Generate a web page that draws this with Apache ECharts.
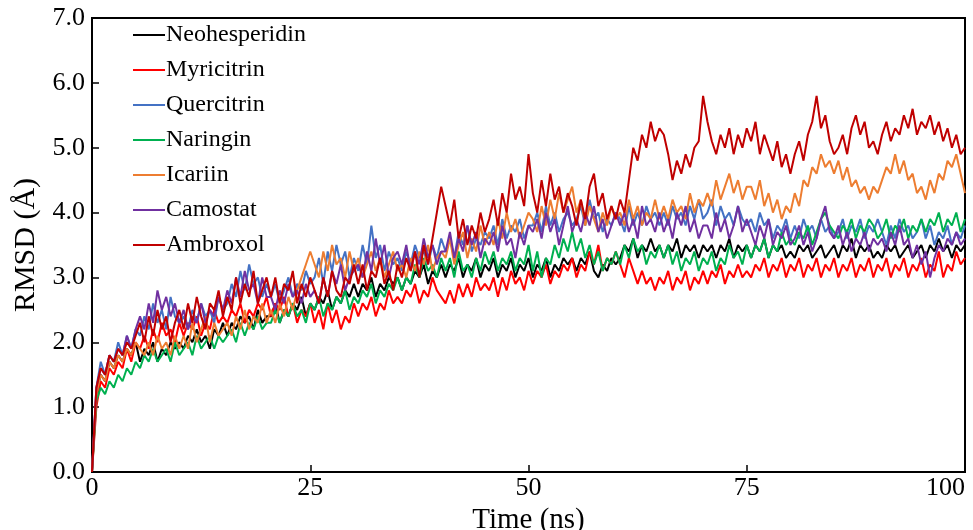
<!DOCTYPE html>
<html>
<head>
<meta charset="utf-8">
<script src="https://cdn.jsdelivr.net/npm/echarts@6/dist/echarts.min.js"></script>
<style>html,body{margin:0;padding:0;background:#fff}#c{width:973px;height:530px}</style>
</head>
<body>
<div id="c"></div>
<script>
// Time step 0.5 ns, 0..100 ns (201 samples)
const timeStepNs = 0.5;
const seriesNames = ['Neohesperidin','Myricitrin','Quercitrin','Naringin','Icariin','Camostat','Ambroxol'];
const seriesColors = ['#000000','#FF0000','#4472C4','#00B050','#ED7D31','#7030A0','#C00000'];
const xTicks = [0,25,50,75,100];
const yTicks = [0,1,2,3,4,5,6,7];

const neohesperidin = [0,
1.2,1.5,1.4,1.7,1.6,1.8,1.7,1.9,1.8,2.0,
1.7,1.9,1.8,2.0,1.7,1.9,1.8,2.0,1.9,2.0,
1.9,2.1,2.0,2.2,2.0,2.1,1.9,2.2,2.1,2.3,
2.1,2.3,2.2,2.4,2.3,2.4,2.2,2.5,2.3,2.4,
2.4,2.6,2.3,2.5,2.4,2.6,2.5,2.7,2.4,2.6,
2.5,2.7,2.6,2.8,2.5,2.7,2.6,2.8,2.7,2.9,
2.7,2.9,2.8,3.0,2.7,2.9,2.8,3.0,2.9,3.0,
2.8,3.0,2.9,3.1,3.0,3.2,2.9,3.1,3.0,3.2,
3.0,3.2,3.1,3.3,3.0,3.2,3.1,3.3,3.0,3.2,
3.1,3.3,3.0,3.2,3.1,3.3,3.0,3.2,3.1,3.3,
3.0,3.2,3.1,3.3,3.0,3.2,3.1,3.3,3.2,3.3,
3.1,3.3,3.2,3.4,3.1,3.0,3.2,3.1,3.3,3.2,
3.3,3.5,3.4,3.6,3.3,3.5,3.4,3.6,3.4,3.5,
3.3,3.5,3.4,3.6,3.3,3.5,3.4,3.5,3.3,3.5,
3.4,3.5,3.3,3.5,3.4,3.6,3.3,3.5,3.4,3.5,
3.3,3.5,3.4,3.6,3.3,3.5,3.4,3.5,3.3,3.4,
3.3,3.5,3.4,3.5,3.3,3.4,3.5,3.3,3.4,3.5,
3.3,3.5,3.4,3.6,3.3,3.5,3.4,3.5,3.3,3.4,
3.3,3.5,3.4,3.5,3.3,3.4,3.5,3.3,3.4,3.5,
3.3,3.5,3.4,3.6,3.4,3.5,3.3,3.5,3.4,3.5];

const myricitrin = [0,
1.0,1.4,1.3,1.6,1.5,1.7,1.6,1.9,1.7,2.0,
1.9,2.1,1.9,2.2,2.0,2.3,2.1,2.2,2.0,2.3,
2.1,2.3,2.2,2.4,2.1,2.3,2.2,2.5,2.3,2.4,
2.3,2.5,2.4,2.6,2.3,2.5,2.4,2.6,2.5,2.7,
2.4,2.6,2.5,2.7,2.4,2.6,2.3,2.5,2.4,2.6,
2.3,2.5,2.2,2.6,2.3,2.5,2.2,2.4,2.3,2.6,
2.4,2.6,2.5,2.7,2.4,2.6,2.5,2.8,2.6,2.7,
2.6,2.8,2.7,2.9,2.6,2.8,2.7,3.0,2.8,2.7,
2.6,2.8,2.6,2.9,2.7,2.9,2.7,3.0,2.8,2.9,
2.8,3.0,2.7,3.0,2.8,3.1,2.9,3.0,2.8,3.1,
2.9,3.1,3.0,3.2,2.9,3.1,3.0,3.2,3.1,3.3,
3.0,3.2,3.1,3.4,3.2,3.5,3.1,3.3,3.2,3.4,
3.2,3.0,3.3,3.1,2.9,3.1,2.9,3.0,2.8,3.0,
2.9,3.1,2.8,3.0,2.9,3.1,2.8,3.0,2.9,3.1,
2.9,3.1,3.0,3.2,2.9,3.1,3.0,3.2,3.0,3.1,
3.0,3.2,3.1,3.3,3.0,3.2,3.1,3.3,3.0,3.2,
3.1,3.3,3.0,3.2,3.1,3.3,3.0,3.2,3.1,3.3,
3.0,3.2,3.1,3.3,3.0,3.2,3.1,3.3,3.0,3.2,
3.1,3.3,3.0,3.2,3.1,3.3,3.0,3.2,3.1,3.3,
3.0,3.2,3.1,3.4,3.0,3.2,3.1,3.4,3.2,3.3];

const quercitrin = [0,
1.3,1.7,1.5,1.8,1.7,2.0,1.8,2.1,1.9,2.2,
2.1,2.4,2.2,2.6,2.3,2.5,2.2,2.7,2.4,2.3,
2.4,2.2,2.5,2.3,2.6,2.4,2.5,2.3,2.7,2.5,
2.6,2.9,2.7,3.1,2.8,3.2,2.9,3.0,2.7,2.9,
2.7,2.9,2.6,2.8,3.0,2.7,2.9,2.8,3.1,2.9,
3.0,3.3,2.9,3.4,3.1,3.5,3.2,3.4,3.0,3.3,
3.1,3.5,3.2,3.8,3.3,3.5,3.1,3.4,3.2,3.3,
3.1,3.4,3.2,3.5,3.3,3.4,3.2,3.5,3.3,3.6,
3.4,3.6,3.3,3.7,3.5,3.8,3.4,3.6,3.5,3.7,
3.6,3.8,3.5,3.9,3.6,3.8,3.7,3.9,3.6,3.8,
3.8,4.0,3.7,4.1,3.8,4.0,3.7,3.9,4.0,3.8,
3.9,4.1,3.8,4.2,3.9,4.0,3.7,3.9,3.8,4.0,
3.9,3.7,4.1,3.8,4.0,3.8,4.1,3.9,4.0,3.8,
4.0,3.8,4.1,3.9,4.0,3.8,4.1,3.9,4.2,3.9,
4.0,4.2,3.8,4.1,3.9,4.0,3.8,4.1,3.9,3.8,
3.9,3.7,4.0,3.8,3.9,3.6,3.8,3.7,3.9,3.6,
3.8,3.6,3.9,3.7,3.8,3.6,3.9,3.7,3.8,3.6,
3.7,3.9,3.6,3.8,3.7,3.9,3.6,3.8,3.7,3.9,
3.7,3.5,3.8,3.6,3.9,3.7,3.8,3.6,3.7,3.9,
3.6,3.8,3.5,3.7,3.6,3.8,3.5,3.7,3.6,3.8];

const naringin = [0,
1.1,1.3,1.2,1.4,1.3,1.5,1.4,1.6,1.5,1.7,
1.6,1.8,1.7,1.9,1.7,1.8,1.9,1.7,2.0,1.8,
1.9,2.0,1.8,2.1,1.9,2.0,2.1,1.9,2.1,2.0,
2.1,2.2,2.0,2.3,2.1,2.3,2.2,2.4,2.2,2.3,
2.3,2.5,2.3,2.5,2.4,2.6,2.4,2.5,2.3,2.6,
2.5,2.7,2.4,2.6,2.5,2.7,2.6,2.8,2.5,2.7,
2.6,2.8,2.7,2.9,2.6,2.8,2.7,2.9,2.8,3.0,
2.8,3.0,2.9,3.2,3.0,3.3,3.1,3.2,3.0,3.3,
3.1,3.3,3.0,3.4,3.1,3.2,3.0,3.3,3.1,3.4,
3.2,3.4,3.1,3.3,3.2,3.4,3.1,3.3,3.2,3.5,
3.1,3.4,3.0,3.3,3.2,3.5,3.3,3.6,3.4,3.7,
3.4,3.6,3.3,3.5,3.2,3.4,3.1,3.3,3.2,3.4,
3.2,3.5,3.3,3.6,3.4,3.5,3.2,3.4,3.3,3.5,
3.3,3.5,3.2,3.4,3.1,3.3,3.2,3.4,3.1,3.3,
3.2,3.4,3.1,3.3,3.2,3.5,3.3,3.4,3.2,3.5,
3.3,3.5,3.4,3.6,3.3,3.5,3.4,3.7,3.5,3.6,
3.5,3.7,3.6,3.8,3.5,3.7,3.9,4.0,3.8,3.7,
3.6,3.8,3.7,3.9,3.6,3.8,3.7,3.9,3.8,3.6,
3.7,3.9,3.6,3.8,3.7,3.9,3.6,3.8,3.7,3.9,
3.7,3.9,3.8,4.0,3.7,3.9,3.8,4.0,3.7,3.9];

const icariin = [0,
1.2,1.5,1.4,1.7,1.6,1.8,1.7,1.9,1.8,2.0,
1.9,1.8,2.0,1.8,2.1,1.9,2.0,1.8,2.1,1.9,
2.1,1.9,2.3,2.0,2.2,2.4,2.0,2.3,2.1,2.2,
2.3,2.1,2.4,2.2,2.5,2.2,2.4,2.3,2.6,2.3,
2.5,2.3,2.6,2.4,2.7,2.5,2.8,3.0,3.2,3.4,
3.2,3.0,3.4,3.1,3.5,3.2,3.3,3.0,3.4,3.1,
3.3,3.0,3.2,3.4,3.1,3.3,3.0,3.2,3.4,3.1,
3.2,3.0,3.3,3.1,3.4,3.2,3.5,3.1,3.3,3.4,
3.3,3.6,3.2,3.5,3.7,3.3,3.6,3.4,3.8,3.5,
3.7,3.5,3.9,3.6,4.0,3.7,3.9,3.6,3.8,4.0,
3.9,3.7,4.1,3.8,4.2,3.9,4.3,4.0,4.2,4.4,
4.0,4.2,3.8,4.1,3.9,3.7,4.0,3.8,4.1,3.9,
4.0,3.8,4.2,3.9,4.1,3.8,4.0,3.9,4.2,3.9,
4.1,3.9,4.2,4.0,4.1,3.9,4.3,4.0,4.2,4.1,
4.3,4.1,4.5,4.2,4.4,4.6,4.3,4.5,4.2,4.4,
4.4,4.2,4.5,4.1,4.3,4.0,4.2,3.9,4.1,4.0,
4.3,4.1,4.5,4.4,4.7,4.6,4.9,4.7,4.8,4.6,
4.8,4.5,4.7,4.4,4.5,4.3,4.4,4.2,4.4,4.3,
4.5,4.7,4.6,4.9,4.6,4.8,4.5,4.6,4.3,4.4,
4.2,4.5,4.3,4.6,4.5,4.8,4.7,4.9,4.6,4.3];

const camostat = [0,
1.3,1.6,1.5,1.8,1.7,1.9,1.8,2.1,1.9,2.2,
2.4,2.2,2.6,2.3,2.8,2.5,2.7,2.4,2.6,2.3,
2.5,2.2,2.4,2.3,2.6,2.3,2.5,2.4,2.7,2.5,
2.8,2.6,3.0,2.7,3.1,2.8,2.9,2.6,3.0,2.7,
2.7,2.5,2.8,2.6,2.9,2.7,2.8,2.6,2.9,2.7,
2.8,2.6,3.0,2.7,3.1,2.9,3.2,2.8,3.0,3.1,
3.2,3.0,3.4,3.1,3.6,3.2,3.5,3.0,3.3,3.4,
3.2,3.5,3.1,3.4,3.2,3.6,3.3,3.5,3.2,3.4,
3.4,3.7,3.3,3.6,3.4,3.8,3.5,3.7,3.3,3.6,
3.5,3.7,3.4,3.8,3.5,3.6,3.3,3.7,3.5,3.8,
3.7,3.9,3.6,4.0,3.7,3.9,3.5,3.8,4.1,3.7,
3.9,3.7,4.0,3.8,4.1,3.7,3.9,3.6,3.8,4.0,
3.8,4.0,3.7,3.9,3.6,4.1,3.8,3.9,3.7,4.0,
3.7,3.9,3.6,4.0,3.8,4.1,3.7,3.9,3.6,3.8,
3.8,3.6,4.0,3.7,3.9,3.6,3.8,4.1,3.7,3.9,
3.7,3.5,3.8,3.6,3.9,3.5,3.7,3.6,3.8,3.5,
3.6,3.8,3.5,3.7,3.4,3.6,3.9,4.1,3.7,3.6,
3.8,3.5,3.7,3.4,3.6,3.5,3.7,3.4,3.6,3.5,
3.6,3.4,3.7,3.5,3.8,3.5,3.6,3.3,3.5,3.2,
3.4,3.0,3.3,3.5,3.4,3.6,3.5,3.7,3.5,3.6];

const ambroxol = [0,
1.3,1.6,1.5,1.8,1.7,1.9,1.8,2.0,1.9,2.1,
2.3,2.0,2.4,2.1,2.5,2.2,2.4,2.0,2.3,2.5,
2.2,2.6,2.3,2.7,2.4,2.2,2.6,2.5,2.8,2.4,
2.7,2.5,3.0,2.6,2.9,2.7,3.1,2.6,2.8,3.0,
2.7,3.0,2.6,2.9,2.8,3.1,2.6,2.9,2.7,3.0,
2.8,2.6,3.0,2.7,3.1,2.8,2.7,3.0,2.9,3.2,
2.9,3.2,2.8,3.1,3.0,3.3,2.9,3.1,2.8,3.2,
3.0,3.3,3.1,3.4,3.0,3.5,3.2,3.6,4.0,4.4,
4.1,3.8,4.2,3.6,3.9,3.5,3.8,3.6,4.0,3.7,
3.9,4.2,3.8,4.3,4.0,4.6,4.2,4.4,4.1,4.9,
4.3,4.0,4.5,4.1,4.6,4.2,4.4,4.0,4.3,4.1,
3.8,4.2,3.9,4.4,4.6,4.1,4.3,3.9,4.1,3.9,
4.2,4.0,4.5,5.0,4.8,5.2,5.0,5.4,5.1,5.3,
5.2,4.9,4.5,4.8,4.6,4.9,4.7,5.0,5.1,5.8,
5.4,5.1,4.9,5.2,5.0,5.3,4.9,5.2,5.0,5.3,
5.1,5.4,4.9,5.2,5.0,4.8,5.1,4.7,4.9,4.6,
4.9,5.1,4.8,5.2,5.4,5.8,5.3,5.5,5.1,4.9,
5.0,5.2,4.9,5.3,5.5,5.2,5.4,5.0,5.1,4.9,
5.2,5.4,5.1,5.3,5.2,5.5,5.3,5.6,5.2,5.4,
5.3,5.5,5.2,5.4,5.1,5.3,5.0,5.2,4.9,5.0];

const allValues = [neohesperidin, myricitrin, quercitrin, naringin, icariin, camostat, ambroxol];
const time = neohesperidin.map((_, i) => i * timeStepNs);

const FONT = '"Liberation Serif", "Times New Roman", serif';
const chart = echarts.init(document.getElementById('c'), null, {renderer: 'canvas'});
chart.setOption({
  animation: false,
  backgroundColor: '#fff',
  grid: {left: 92, right: 8, top: 18, bottom: 58, containLabel: false, outerBoundsMode: 'none',
    show: true, borderColor: '#000', borderWidth: 2, backgroundColor: 'transparent'},
  legend: {
    orient: 'vertical', left: 128, top: 18,
    icon: 'rect', itemWidth: 32, itemHeight: 2, itemGap: 11,
    textStyle: {fontFamily: FONT, fontSize: 24, color: '#000', lineHeight: 24, padding: [0,0,0,-4]},
    data: seriesNames
  },
  xAxis: {
    type: 'value', min: 0, max: 100, interval: 25,
    name: 'Time (ns)', nameLocation: 'middle', nameGap: 29,
    nameTextStyle: {fontFamily: FONT, fontSize: 29, color: '#000'},
    axisLine: {lineStyle: {color: '#000', width: 2}},
    axisTick: {inside: true, length: 7, lineStyle: {color: '#000', width: 1.5}},
    axisLabel: {fontFamily: FONT, fontSize: 26, color: '#000', margin: 3, alignMaxLabel: 'right',
      formatter: v => xTicks.includes(v) ? String(v) : ''},
    splitLine: {show: false}
  },
  yAxis: {
    type: 'value', min: 0, max: 7, interval: 1,
    name: 'RMSD (Å)', nameLocation: 'middle', nameGap: 50,
    nameTextStyle: {fontFamily: FONT, fontSize: 30, color: '#000'},
    axisLine: {lineStyle: {color: '#000', width: 2}},
    axisTick: {inside: true, length: 7, lineStyle: {color: '#000', width: 1.5}},
    axisLabel: {fontFamily: FONT, fontSize: 26, color: '#000', margin: 7,
      formatter: v => yTicks.includes(v) ? v.toFixed(1) : ''},
    splitLine: {show: false}
  },
  series: seriesNames.map((name, k) => ({
    name, type: 'line', showSymbol: false, symbol: 'none',
    color: seriesColors[k],
    lineStyle: {width: 2, color: seriesColors[k]},
    data: time.map((t, i) => [t, allValues[k][i]]),
    z: 2 + k
  }))
});
</script>
</body>
</html>
